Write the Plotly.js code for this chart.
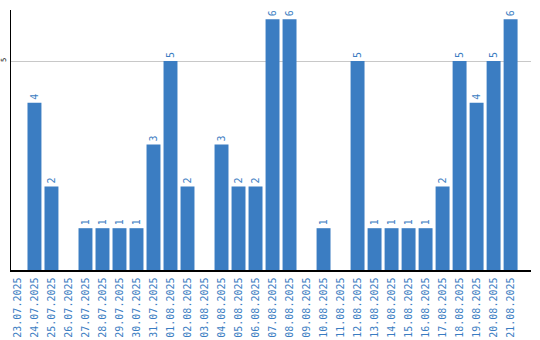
<!DOCTYPE html>
<html><head><meta charset="utf-8">
<script src="https://cdn.plot.ly/plotly-3.0.1.min.js"></script>
<style>body{margin:0;padding:0;background:#fff}#c{width:540px;height:340px}</style>
</head><body><div id="c"></div>
<script>
const dates = ["23.07.2025","24.07.2025","25.07.2025","26.07.2025","27.07.2025","28.07.2025","29.07.2025","30.07.2025","31.07.2025","01.08.2025","02.08.2025","03.08.2025","04.08.2025","05.08.2025","06.08.2025","07.08.2025","08.08.2025","09.08.2025","10.08.2025","11.08.2025","12.08.2025","13.08.2025","14.08.2025","15.08.2025","16.08.2025","17.08.2025","18.08.2025","19.08.2025","20.08.2025","21.08.2025"];
const counts = [0,4,2,0,1,1,1,1,3,5,2,0,3,2,2,6,6,0,1,0,5,1,1,1,1,2,5,4,5,6];
const labels = counts.map(v => v > 0 ? String(v) : "");
const yTicks = [5];

const blue = "#3b7dc2";
Plotly.newPlot("c", [{
  type: "bar",
  x: dates,
  y: counts,
  text: labels,
  textposition: "outside",
  textangle: -90,
  cliponaxis: false,
  textfont: {family: "DejaVu Sans Mono", size: 10, color: blue},
  marker: {color: blue},
  width: 0.82,
  hoverinfo: "none"
}], {
  width: 540, height: 340,
  margin: {l: 11, r: 9, t: 10, b: 70},
  paper_bgcolor: "#fff", plot_bgcolor: "#fff",
  showlegend: false,
  xaxis: {
    type: "category",
    range: [-0.38, 30.2],
    tickangle: -90,
    ticklabelstandoff: 2,
    tickfont: {family: "DejaVu Sans Mono", size: 10, color: blue},
    showline: true, linecolor: "#000", linewidth: 1.5,
    showgrid: false, ticks: "", zeroline: false
  },
  yaxis: {
    range: [0, 6.22],
    tickvals: yTicks,
    ticktext: yTicks.map(String),
    tickangle: -90,
    ticklabelstandoff: 1,
    tickfont: {family: "DejaVu Sans Mono", size: 7, color: "#000"},
    showline: true, linecolor: "#000", linewidth: 1.5,
    showgrid: true, gridcolor: "#c8c8c8", gridwidth: 1,
    ticks: "", zeroline: false
  },
  font: {family: "DejaVu Sans Mono"}
}, {staticPlot: true});
</script></body></html>
